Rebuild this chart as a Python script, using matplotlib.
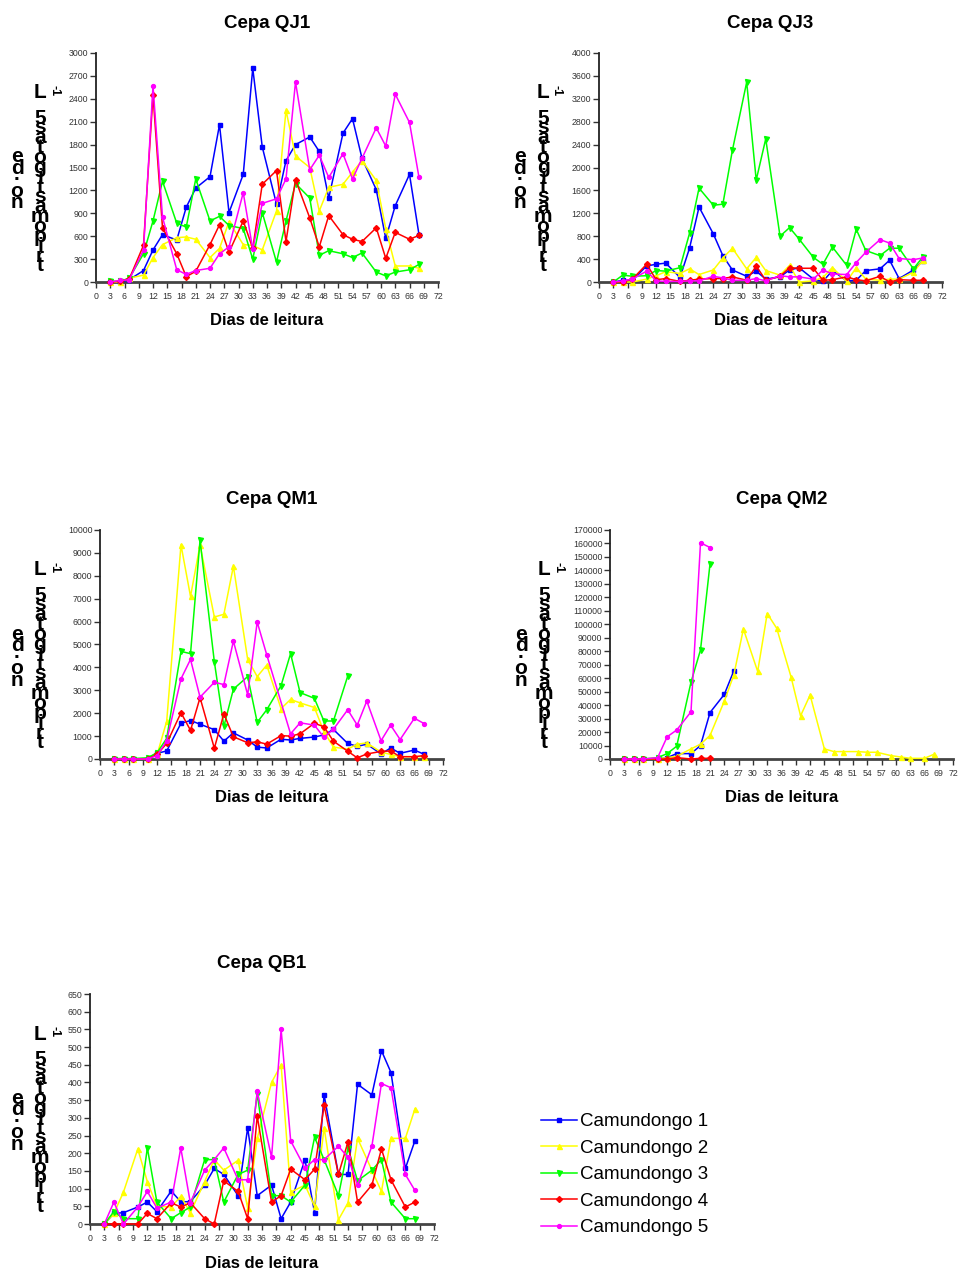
import numpy as np
import matplotlib
matplotlib.use('Agg')
import matplotlib.pyplot as plt

plt.rcParams['font.family'] = ['Liberation Sans', 'DejaVu Sans']

# reading days shared by every mouse
DAYS = [3, 5, 7, 10, 12, 14, 17, 19, 21, 24, 26, 28, 31, 33, 35, 38, 40, 42, 45, 47, 49, 52, 54, 56, 59, 61, 63, 66, 68]

MICE = ['Camundongo 1', 'Camundongo 2', 'Camundongo 3', 'Camundongo 4', 'Camundongo 5']

# Cepa QJ1
qj1_m1 = [0, 0, 30, 150, 420, 620, 550, 980, 1230, 1380, 2060, 910, 1410, 2800, 1770, 1020, 1590, 1800, 1900, 1710, 1100, 1950, 2140, 1620, 1210, 570, 1000, 1410, 620]
qj1_m2 = [0, 0, 50, 90, 320, 490, 580, 590, 560, 320, 440, 790, 490, 480, 420, 930, 2250, 1650, 1500, 930, 1240, 1280, 1440, 1590, 1330, 700, 210, 210, 180]
qj1_m3 = [10, 10, 50, 370, 800, 1320, 770, 720, 1350, 800, 860, 740, 700, 300, 910, 260, 800, 1290, 1100, 350, 410, 370, 320, 380, 130, 80, 130, 160, 230]
qj1_m4 = [0, 10, 40, 480, 2450, 710, 370, 70, 140, 490, 750, 390, 800, 440, 1280, 1460, 530, 1340, 840, 460, 870, 620, 560, 530, 710, 310, 650, 560, 610]
qj1_m5 = [0, 20, 30, 420, 2570, 850, 160, 100, 150, 180, 370, 460, 1170, 430, 1030, 1090, 1350, 2620, 1470, 1660, 1370, 1680, 1350, 1620, 2020, 1780, 2460, 2090, 1370]

# Cepa QJ3
qj3_m1 = [0, 30, 30, 280, 310, 330, 80, 590, 1310, 840, 460, 210, 100, 190, 50, 90, 210, 250, 50, 10, 200, 20, 30, 200, 230, 380, 60, 210, 370]
qj3_m2 = [0, 0, 0, 50, 110, 180, 150, 230, 130, 210, 420, 590, 230, 430, 200, 120, 290, 0, 20, 80, 250, 10, 250, 50, 30, 50, 50, 170, 380]
qj3_m3 = [0, 120, 100, 110, 200, 190, 250, 850, 1640, 1340, 1360, 2300, 3490, 1780, 2500, 800, 950, 750, 430, 310, 610, 290, 920, 550, 460, 590, 590, 230, 440]
qj3_m4 = [0, 0, 50, 310, 40, 60, 10, 30, 50, 60, 60, 90, 30, 280, 30, 100, 250, 240, 240, 30, 40, 90, 40, 20, 100, 0, 40, 30, 30]
qj3_m5 = [0, 20, 50, 190, 20, 10, 10, 20, 20, 100, 70, 30, 30, 60, 20, 110, 90, 90, 50, 210, 140, 130, 340, 520, 740, 680, 410, 390, 420]

# Cepa QM1
qm1_m1 = [0, 0, 0, 20, 250, 350, 1560, 1680, 1520, 1280, 780, 1140, 830, 520, 480, 860, 830, 900, 960, 1050, 1290, 680, 550, 650, 220, 480, 250, 390, 210]
qm1_m2 = [0, 0, 0, 0, 200, 1650, 9350, 7100, 9350, 6200, 6320, 8420, 4350, 3600, 4100, 2200, 2600, 2450, 2250, 1200, 520, 430, 650, 700, 300, 200, 100, 100, 100]
qm1_m3 = [20, 20, 20, 50, 280, 900, 4700, 4600, 9550, 4250, 1420, 3050, 3600, 1600, 2150, 3200, 4600, 2900, 2650, 1660, 1660, 3620, None, None, None, None, None, None, None]
qm1_m4 = [0, 0, 0, 0, 200, 680, 2020, 1250, 2680, 470, 1970, 970, 710, 750, 650, 1020, 1000, 1100, 1560, 1410, 780, 340, 50, 220, 330, 350, 100, 100, 150]
qm1_m5 = [0, 0, 0, 0, 150, 800, 3500, 4350, 2700, 3350, 3250, 5150, 2800, 5980, 4550, None, 1100, 1580, 1480, 950, 1300, 2150, 1480, 2530, 800, 1480, 850, 1780, 1550]

# Cepa QM2
qm2_m1 = [0, 0, 0, 0, 1000, 4000, 4000, 10000, 34500, 48000, 65500] + [None] * 18
qm2_m2 = [0, 0, 0, 0, 1000, 2000, 7500, 11000, 17500, 43000, 62500, 96500, 65000, 108000, 97000, 61000, 32000, 47500, 7500, 5500, 5500, 5500, 5000, 5000, 2500, 1500, 500, 500, 3500]
qm2_m3 = [0, 0, 0, 1000, 4000, 9500, 57000, 81000, 145000] + [None] * 20
qm2_m4 = [0, 0, 0, 0, 0, 1000, 0, 500, 500] + [None] * 20
qm2_m5 = [0, 0, 0, 1000, 16500, 21500, 35000, 160500, 157000] + [None] * 20

# Cepa QB1
qb1_m1 = [0, 30, 32, 48, 62, 35, 93, 63, 63, 110, 157, 140, 80, 272, 80, 110, 15, 62, 182, 32, 365, 140, 140, 395, 365, 490, 428, 157, 235]
qb1_m2 = [0, 30, 90, 212, 120, 50, 48, 78, 32, 120, 182, 152, 180, 45, 242, 400, 450, 90, 110, 50, 272, 12, 60, 242, 152, 92, 242, 242, 325]
qb1_m3 = [0, 35, 15, 15, 215, 62, 15, 32, 48, 182, 182, 62, 140, 152, 368, 80, 80, 62, 110, 245, 182, 80, 215, 122, 152, 182, 62, 15, 15]
qb1_m4 = [0, 0, 0, 0, 30, 15, 60, 48, 60, 15, 0, 122, 92, 15, 305, 62, 80, 155, 125, 155, 335, 140, 232, 62, 110, 212, 125, 48, 62]
qb1_m5 = [0, 62, 0, 48, 92, 45, 62, 215, 60, 152, 182, 215, 125, 125, 375, 188, 550, 235, 158, 182, 182, 220, 188, 110, 220, 397, 385, 140, 95]

COLORS = ['#0000ff', '#ffff00', '#00ff00', '#ff0000', '#ff00ff']
MARKERS = ['s', '^', 'v', 'D', 'o']
MSIZES = [3.2, 3.6, 3.6, 3.0, 2.8]

W, H = 959, 1274
fig = plt.figure(figsize=(W / 100, H / 100), dpi=100)

# (title, series, ymax, ystep, left, right, top, bottom, label offset)
panels = [
    ('Cepa QJ1', [qj1_m1, qj1_m2, qj1_m3, qj1_m4, qj1_m5], 3000, 300, 96, 438, 53, 282, 0),
    ('Cepa QJ3', [qj3_m1, qj3_m2, qj3_m3, qj3_m4, qj3_m5], 4000, 400, 599, 942, 53, 282, 0),
    ('Cepa QM1', [qm1_m1, qm1_m2, qm1_m3, qm1_m4, qm1_m5], 10000, 1000, 100, 443, 530, 759, 4),
    ('Cepa QM2', [qm2_m1, qm2_m2, qm2_m3, qm2_m4, qm2_m5], 170000, 10000, 610, 953, 530, 759, 10),
    ('Cepa QB1', [qb1_m1, qb1_m2, qb1_m3, qb1_m4, qb1_m5], 650, 50, 90, 434, 994, 1224, -6),
]

# y caption, printed one glyph per line (right-to-left reading)
cap_left = '\n'.join(['e', 'd', '·', 'o', 'n'])
cap_mid = '\n'.join(['5', 's', 'a', 't', 'o', 'g', 'i', 't', 's', 'a', 'm', 'o', 'p', 'i', 'r', 't'])


def px(x, y):
    return x / W, 1 - y / H


handles = []
for title, series, ymax, ystep, l, r, t, b, off in panels:
    ax = fig.add_axes([l / W, 1 - b / H, (r - l) / W, (b - t) / H])
    for i, vals in enumerate(series):
        xs = [d for d, v in zip(DAYS, vals) if v is not None]
        ys = [v for v in vals if v is not None]
        ln, = ax.plot(xs, ys, color=COLORS[i], marker=MARKERS[i], ms=MSIZES[i], lw=1.1,
                      mec=COLORS[i], clip_on=False, zorder=3 + i * 0.1, label=MICE[i])
        if title == 'Cepa QB1':
            handles.append(ln)
    ax.set_xlim(0, 72)
    ax.set_ylim(0, ymax)
    ax.set_xticks(np.arange(0, 73, 3))
    ax.set_yticks(np.arange(0, ymax + 1, ystep))
    ax.tick_params(axis='both', direction='out', labelsize=6.3, colors='#333333',
                   length=4, width=1.0, pad=1.5)
    ax.tick_params(axis='x', pad=3)
    for s in ['top', 'right']:
        ax.spines[s].set_visible(False)
    ax.spines['left'].set_linewidth(1.3)
    ax.spines['bottom'].set_linewidth(2.0)
    ax.spines['bottom'].set_color('#444444')
    ax.spines['left'].set_color('#222222')
    ax.set_facecolor('none')

    cx = (l + r) / 2
    fig.text(*px(cx, t - 30), title, ha='center', va='center', fontsize=13.5, fontweight='bold')
    fig.text(*px(cx, b + 39), 'Dias de leitura', ha='center', va='center', fontsize=12, fontweight='bold')

    fig.text(*px(l - 79 - off, t + 127), cap_left, ha='center', va='center', fontsize=15,
             fontweight='bold', linespacing=0.5)
    x2 = l - 56 - off
    fig.text(*px(x2, t + 40), 'L', ha='center', va='center', fontsize=15, fontweight='bold')
    fig.text(*px(x2, t + 139), cap_mid, ha='center', va='center', fontsize=15,
             fontweight='bold', linespacing=0.39)
    fig.text(*px(l - 42 - off, t + 38), '-1', ha='center', va='center', fontsize=9,
             fontweight='bold', rotation=-90)

fig.legend(handles=handles, labels=MICE, loc='upper left', bbox_to_anchor=(541 / W, 1 - 1113 / H),
           frameon=False, fontsize=13.5, handlelength=1.9, handletextpad=0.2, labelspacing=0.5,
           borderaxespad=0, borderpad=0)

fig.savefig('out.png', dpi=100)
